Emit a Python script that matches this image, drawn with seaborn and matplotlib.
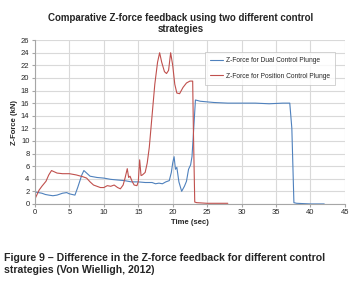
import numpy as np
import pandas as pd
import seaborn as sns
import matplotlib.pyplot as plt

# Z-force for dual control plunge (blue)
dual_t = [0, 0.5, 1, 1.5, 2, 2.6, 3.2, 4, 4.6, 5, 5.4, 5.8, 6.2, 6.8, 7.1, 7.5, 8, 9, 10, 11, 12, 13, 14,
          15, 16, 17, 17.5, 18, 18.5, 19, 19.5, 19.8, 20.0, 20.2, 20.4, 20.6, 20.9, 21.3, 21.7, 22.0,
          22.3, 22.6, 22.8, 23.0, 23.3, 24, 26, 28, 30, 32, 34, 36, 37.0, 37.3, 37.6, 38, 40, 42]
dual_f = [1.9, 1.8, 1.7, 1.5, 1.4, 1.3, 1.4, 1.7, 1.8, 1.6, 1.5, 1.4, 2.6, 4.6, 5.3, 4.9, 4.4, 4.2, 4.1, 3.9, 3.8, 3.7, 3.5,
          3.5, 3.4, 3.4, 3.2, 3.3, 3.2, 3.5, 3.7, 5.0, 6.5, 7.5, 5.5, 5.8, 3.5, 2.0, 2.8, 3.6,
          5.5, 6.2, 7.5, 11.0, 16.5, 16.3, 16.1, 16.0, 16.0, 16.0, 15.9, 16.0, 16.0, 12.0, 0.2, 0.1, 0.0, 0.0]

# Z-force for position control plunge (red)
pos_t = [0, 0.3, 0.6, 1.0, 1.3, 1.6, 2.0, 2.4, 2.8, 3.2, 4, 5, 6, 7, 7.5, 8, 8.5, 9, 9.5, 10, 10.5, 11, 11.5,
         12, 12.4, 12.8, 13.1, 13.4, 13.6, 13.8, 14.1, 14.4, 14.8, 15.0, 15.2, 15.4, 15.6, 16.0, 16.3,
         16.6, 17.0, 17.4, 17.8, 18.1, 18.4, 18.8, 19.1, 19.4, 19.7, 20.0, 20.3, 20.6, 21.0, 21.5, 22.0,
         22.5, 22.9, 23.0, 23.2, 23.5, 25, 27, 28]
pos_f = [0.8, 1.5, 2.2, 2.8, 3.2, 3.6, 4.6, 5.3, 5.1, 4.9, 4.8, 4.8, 4.6, 4.3, 4.1, 3.5, 3.0, 2.8, 2.6, 2.6, 2.9, 2.8, 3.0,
         2.6, 2.4, 3.0, 4.2, 5.6, 4.2, 4.4, 3.6, 3.0, 2.9, 3.5, 7.0, 4.5, 4.6, 5.0, 6.5,
         9.0, 14.0, 19.0, 22.5, 24.0, 22.5, 21.0, 20.7, 21.2, 24.0, 22.0, 19.0, 17.6, 17.5, 18.5, 19.2,
         19.5, 19.5, 12.0, 0.3, 0.2, 0.1, 0.1, 0.1]

labels = ["Z-Force for Dual Control Plunge", "Z-Force for Position Control Plunge"]
colors = ["#4F81BD", "#C0504D"]

df = pd.concat([
    pd.DataFrame({"t": dual_t, "f": dual_f, "series": labels[0]}),
    pd.DataFrame({"t": pos_t, "f": pos_f, "series": labels[1]}),
])

sns.set_style("white")
plt.rcParams['font.family'] = ['Liberation Sans', 'DejaVu Sans']

fig = plt.figure(figsize=(3.57, 2.93), dpi=100)
ax = fig.add_axes([0.098, 0.304, 0.868, 0.559])
sns.lineplot(data=df, x="t", y="f", hue="series", palette=colors, linewidth=0.8,
             sort=False, estimator=None, ax=ax)

ax.set_xlim(0, 45)
ax.set_ylim(0, 26)
ax.set_xticks(range(0, 46, 5))
ax.set_yticks(range(0, 27, 2))
ax.grid(True, color="#d9d9d9", linewidth=0.8)
for s in ["top", "right"]:
    ax.spines[s].set_visible(False)
for s in ["left", "bottom"]:
    ax.spines[s].set_color("#a6a6a6")
    ax.spines[s].set_linewidth(0.8)
ax.tick_params(labelsize=5.5, length=2, color="#a6a6a6", pad=2, left=True, bottom=True)
ax.set_xlabel("Time (sec)", fontsize=5.5, fontweight="bold", labelpad=2)
ax.set_ylabel("Z-Force (kN)", fontsize=5.5, fontweight="bold", labelpad=2)

leg = ax.legend(loc="upper right", bbox_to_anchor=(0.98, 0.95), fontsize=4.8, frameon=True,
                fancybox=False, edgecolor="#bfbfbf", handlelength=2.0, handletextpad=0.4,
                borderpad=0.8, labelspacing=1.3)
leg.get_frame().set_linewidth(0.6)

fig.text(0.505, 0.955, "Comparative Z-force feedback using two different control\nstrategies",
         ha="center", va="top", fontsize=7, fontweight="bold", linespacing=1.05)

fig.text(0.012, 0.135, "Figure 9 \u2013 Difference in the Z-force feedback for different control\n"
         "strategies (Von Wielligh, 2012)", ha="left", va="top", fontsize=7.6,
         fontweight="bold", family=["Liberation Sans Narrow", "Liberation Sans"], linespacing=1.2)

fig.savefig("out.png", dpi=100)
